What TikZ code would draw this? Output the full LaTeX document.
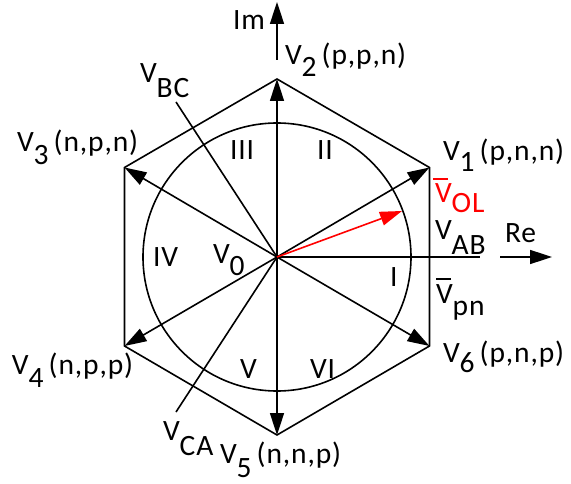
\documentclass[tikz,border=0pt]{standalone}
\usepackage{fontspec}
\setmainfont{Carlito}[LetterSpace=3]
\usetikzlibrary{arrows.meta}
\newcommand{\Vsub}[2]{V\raisebox{-#1}{#2}}
\newcommand{\Vbar}[1]{\makebox[0pt][l]{\hspace{#1}\raisebox{23pt}{\rule{15pt}{1.6pt}}}V}
\begin{document}
\begin{tikzpicture}[x=1pt,y=-1pt,
  lbl/.style={anchor=base west,inner sep=0pt,outer sep=0pt,font=\fontsize{29.5}{32}\selectfont},
  ln/.style={line width=1.6pt},
  vec/.style={line width=1.6pt,-{Triangle[length=22pt,width=14pt]}},
  redvec/.style={vec,red}]
\useasboundingbox (0,0) rectangle (571,484);
% geometry
\coordinate (O) at (277,257);
\coordinate (H1) at (429.5,167.5);
\coordinate (H2) at (277,79);
\coordinate (H3) at (124.5,167.5);
\coordinate (H4) at (124.5,346);
\coordinate (H5) at (277,435);
\coordinate (H6) at (429.5,346);
\coordinate (ImS) at (277,60);
\coordinate (ImE) at (277,2);
\coordinate (ReS) at (500,257);
\coordinate (ReE) at (552,257);
\coordinate (AB) at (480,257);
\coordinate (BC) at (176,102);
\coordinate (CA) at (176,412);
\coordinate (OL) at (402,211);
% hexagon and circle
\draw[ln] (H1) -- (H2) -- (H3) -- (H4) -- (H5) -- (H6) -- cycle;
\draw[ln] (O) circle[radius=134];
% axes and lines
\draw[ln] (O) -- (AB);
\draw[ln] (O) -- (BC);
\draw[ln] (O) -- (CA);
\draw[vec] (ImS) -- (ImE);
\draw[vec] (ReS) -- (ReE);
% vectors
\foreach \h in {H1,H2,H3,H4,H5,H6} \draw[vec] (O) -- (\h);
\draw[redvec] (O) -- (OL);
% labels
\node[lbl] (tIm) at (233,30) {Im};
\node[lbl] (tRe) at (505,243) {Re};
\node[lbl] (t2) at (285,65) {\Vsub{12pt}{2}\hspace{5pt}(p,p,n)};
\node[lbl] (t1) at (443,161) {\Vsub{11pt}{1}\hspace{5pt}(p,n,n)};
\node[lbl] (t3) at (17,152) {\Vsub{13pt}{3}\hspace{5pt}(n,p,n)};
\node[lbl] (t4) at (12,374) {\Vsub{13pt}{4}\hspace{5pt}(n,p,p)};
\node[lbl] (t5) at (220,463) {\Vsub{14pt}{5}\hspace{5pt}(n,n,p)};
\node[lbl] (t6) at (443,362) {\Vsub{10pt}{6}\hspace{5pt}(p,n,p)};
\node[lbl,text=red] (tOL) at (435,203) {\Vbar{-2pt}\raisebox{-10pt}{OL}};
\node[lbl] (tAB) at (435,240) {\Vsub{15pt}{AB}};
\node[lbl] (tpn) at (436,303) {\Vbar{0pt}\raisebox{-12pt}{pn}};
\node[lbl] (tBC) at (140,83) {\Vsub{15pt}{BC}};
\node[lbl] (tCA) at (163,440) {\Vsub{15pt}{CA}};
\node[lbl] (t0) at (213,263) {\Vsub{13pt}{0}};
\node[lbl] (sI) at (390,287) {I};
\node[lbl] (sII) at (317,160) {II};
\node[lbl] (sIII) at (230,160) {III};
\node[lbl] (sIV) at (153,267) {IV};
\node[lbl] (sV) at (240,378) {V};
\node[lbl] (sVI) at (310,378) {VI};
\end{tikzpicture}
\end{document}
